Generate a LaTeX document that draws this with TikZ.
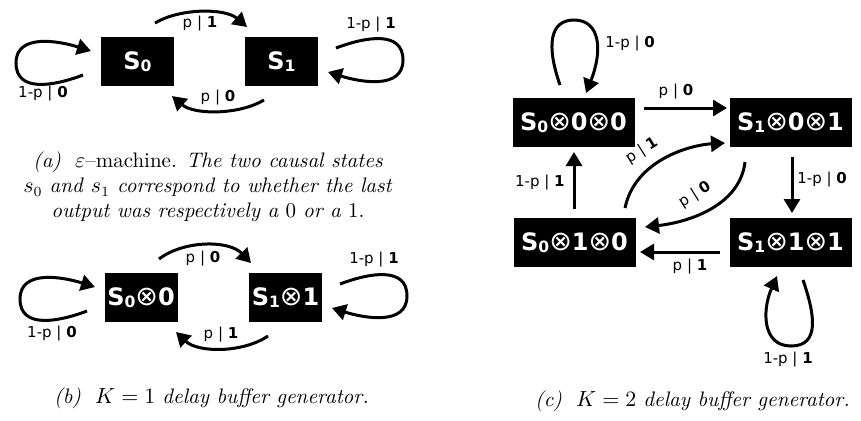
\documentclass[tikz,border=0pt]{standalone}
\usepackage{fontspec}
\usetikzlibrary{arrows.meta,calc}
\newfontfamily\dvs{DejaVu Sans}
\newcommand\lab[2]{#1 | \textbf{#2}}
\newcommand\otm{{\mdseries\fontsize{13.5}{14}\selectfont ⊗}}
\newcommand\sbs[1]{\raisebox{-0.1em}{\fontsize{7.8}{8}\selectfont #1}}
\tikzset{
  state/.style={fill=black, text=white, inner sep=0pt, minimum height=24.5pt,
    font=\dvs\bfseries\fontsize{12}{14}\selectfont},
  boxA/.style={state, minimum width=36.5pt},
  boxC/.style={state, minimum width=61pt},
  arr/.style={line width=1.5pt, -{Triangle[length=7pt,width=8pt]}},
  lbl/.style={font=\dvs\fontsize{7.5}{9}\selectfont, inner sep=0pt},
  captxt/.style={font=\fontsize{10.5}{12.6}\selectfont, align=center, inner sep=0pt}
}
\begin{document}
\begin{tikzpicture}[x=0.5pt,y=-0.5pt]
\path[use as bounding box] (0,0) rectangle (861,420);
% ---------- (a)
\node[boxA] (a0) at (137.5,61.5) {S\sbs{0}};
\node[boxA] (a1) at (281.5,61.5) {S\sbs{1}};
\draw[arr] ($(a0)+(17.5,-38.5)$) .. controls (180,8) and (225,8) .. ($(a1)+(-34.5,-34.5)$);
\draw[arr] ($(a1)+(-17.5,38.5)$) .. controls (239,115) and (194,115) .. ($(a0)+(34.5,34.5)$);
\draw[arr] ($(a0)+(-54.5,13.5)$) .. controls (54,86) and (16,93) .. (16,63) .. controls (16,33) and (59,41) .. ($(a0)+(-46.5,-10.5)$);
\draw[arr] ($(a1)+(54.5,-13.5)$) .. controls (365,37) and (403,30) .. (403,60) .. controls (403,90) and (360,82) .. ($(a1)+(46.5,10.5)$);
\node[lbl] (la1) at (200,24) {\lab{p}{1}};
\node[lbl] (la2) at (218,98) {\lab{p}{0}};
\node[lbl] (la3) at (43,94) {\lab{1-p}{0}};
\node[lbl] (la4) at (371,25) {\lab{1-p}{1}};
\node[captxt] (capa) at (208,187) {\textit{(a)}\ \ $\varepsilon$--machine. \textit{The two causal states}\\
  $s_0$ \textit{and} $s_1$ \textit{correspond to whether the last}\\
  \textit{output was respectively a} 0 \textit{or a} 1.};
% ---------- (b)
\node[boxA] (b0) at (141,297.5) {S\sbs{0}\otm 0};
\node[boxA] (b1) at (285.5,297.5) {S\sbs{1}\otm 1};
\draw[arr] ($(b0)+(18,-38.5)$) .. controls (184,240) and (229,240) .. ($(b1)+(-34.5,-34.5)$);
\draw[arr] ($(b1)+(-17.5,38.5)$) .. controls (243,353) and (198,353) .. ($(b0)+(35,34.5)$);
\draw[arr] ($(b0)+(-54,13.5)$) .. controls (58,322) and (20,329) .. (20,299) .. controls (20,269) and (63,277) .. ($(b0)+(-46,-10.5)$);
\draw[arr] ($(b1)+(54.5,-13.5)$) .. controls (369,273) and (407,266) .. (407,296) .. controls (407,326) and (364,318) .. ($(b1)+(46.5,10.5)$);
\node[lbl] (lb1) at (203,259) {\lab{p}{0}};
\node[lbl] (lb2) at (221,335) {\lab{p}{1}};
\node[lbl] (lb3) at (52,334) {\lab{1-p}{0}};
\node[lbl] (lb4) at (374,260) {\lab{1-p}{1}};
\node[captxt] (capb) at (211.5,398) {\textit{(b)}\ \ $K=1$ \textit{delay buffer generator.}};
% ---------- (c)
\node[boxC] (c00) at (573.5,122.5) {S\sbs{0}\otm 0\otm 0};
\node[boxC] (c01) at (790.5,122.5) {S\sbs{1}\otm 0\otm 1};
\node[boxC] (c10) at (574.5,242.5) {S\sbs{0}\otm 1\otm 0};
\node[boxC] (c11) at (790.5,242.5) {S\sbs{1}\otm 1\otm 1};
\draw[arr] ($(c00)+(-13.5,-37.5)$) .. controls (546,45) and (550,20) .. (574,20) .. controls (600,20) and (603,50) .. ($(c00)+(12.5,-29.5)$);
\draw[arr] ($(c00)+(70.5,-14.5)$) -- ($(c01)+(-63.5,-14.5)$);
\draw[arr] ($(c01)+(1.5,34.5)$) -- ($(c11)+(1.5,-29.5)$);
\draw[arr] ($(c11)+(-70.5,9.5)$) -- ($(c10)+(65.5,9.5)$);
\draw[arr] ($(c10)+(-0.5,-33.5)$) -- ($(c00)+(0.5,29.5)$);
\draw[arr] ($(c10)+(50.5,-34.5)$) .. controls (635,160) and (690,145) .. ($(c01)+(-65.5,20.5)$);
\draw[arr] ($(c01)+(-45.5,39.5)$) .. controls (740,205) and (690,222) .. ($(c10)+(70.5,-15.5)$);
\draw[arr] ($(c11)+(12.5,37.5)$) .. controls (815,315) and (820,346) .. (791,346) .. controls (762,346) and (762,310) .. ($(c11)+(-13.5,33.5)$);
\node[lbl, anchor=west] (lc1) at (605,44) {\lab{1-p}{0}};
\node[lbl] (lc2) at (676,92) {\lab{p}{0}};
\node[lbl, anchor=west] (lc3) at (797,180) {\lab{1-p}{0}};
\node[lbl] (lc4) at (690,267) {\lab{p}{1}};
\node[lbl, anchor=east] (lc5) at (565,183) {\lab{1-p}{1}};
\node[lbl, rotate=32] (lc6) at (642,151) {\lab{p}{1}};
\node[lbl, rotate=32] (lc7) at (695,195) {\lab{p}{0}};
\node[lbl] (lc8) at (788,360) {\lab{1-p}{1}};
\node[captxt] (capc) at (692.5,401) {\textit{(c)}\ \ $K=2$ \textit{delay buffer generator.}};
\end{tikzpicture}
\end{document}
